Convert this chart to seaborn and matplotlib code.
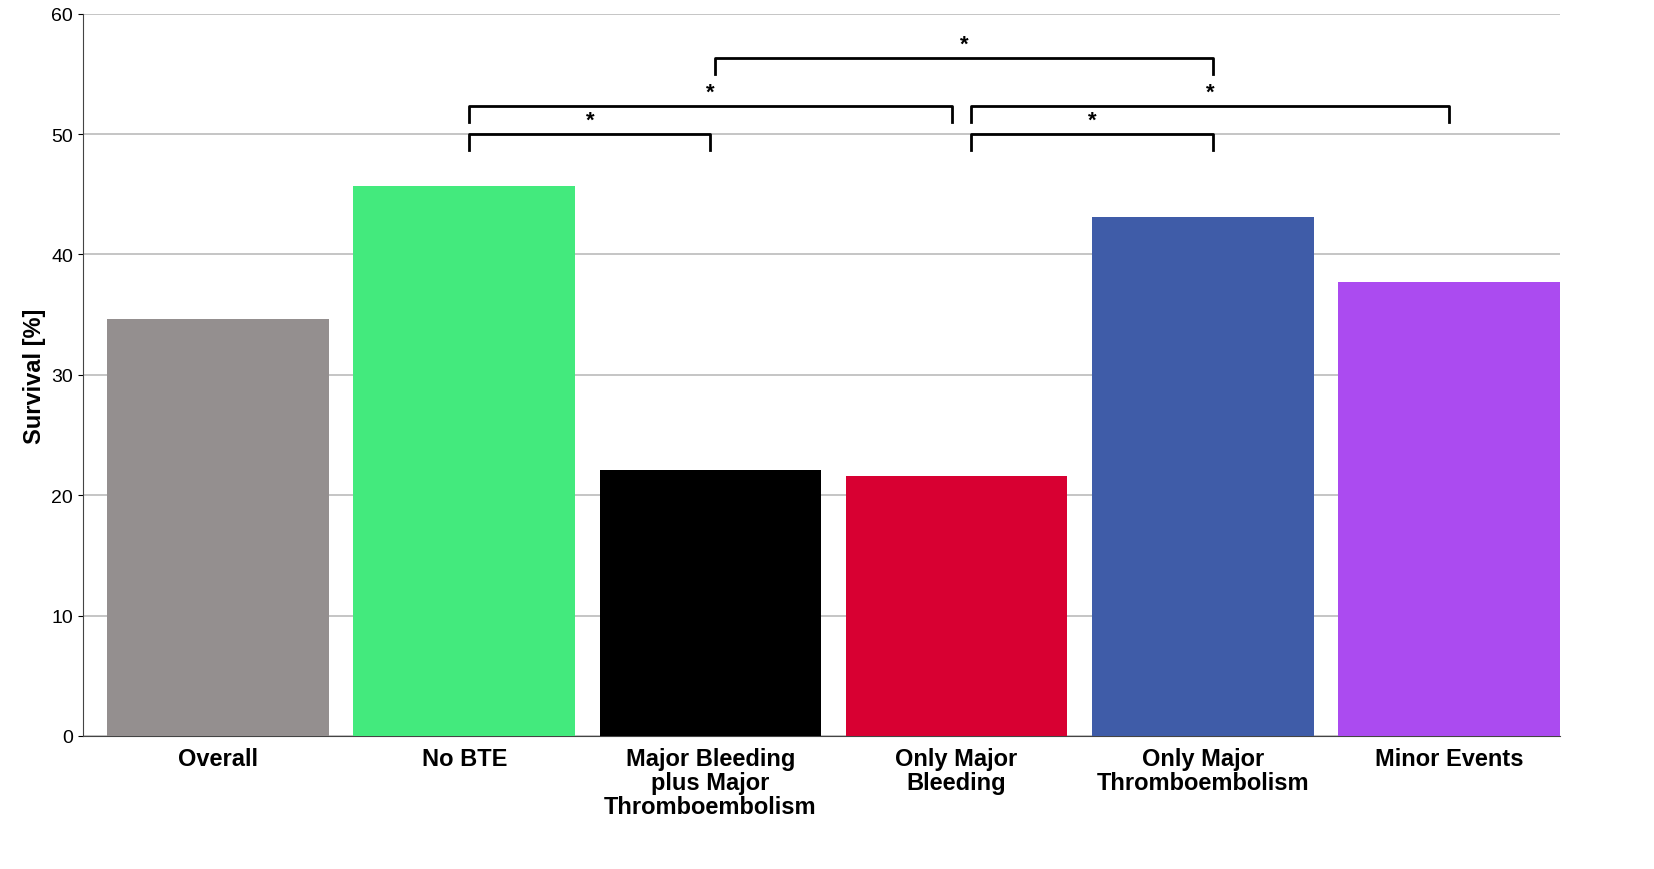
import matplotlib
matplotlib.use("Agg")
import matplotlib.pyplot as plt
import seaborn as sns
import pandas as pd

plt.rcParams["font.family"] = "Liberation Sans"

categories = ["Overall", "No BTE", "Major Bleeding\nplus Major\nThromboembolism",
              "Only Major\nBleeding", "Only Major\nThromboembolism", "Minor Events"]
survival = [34.6, 45.7, 22.1, 21.6, 43.1, 37.7]
colors = ["#948f8f", "#43ea7d", "#000000", "#d80032", "#3f5ca8", "#ab4bf0"]
# brackets: (start index, end index, height, start offset, end offset)
brackets = [(1, 2, 50.0, 0.02, 0.0), (1, 3, 52.3, 0.02, -0.02), (2, 4, 56.3, 0.02, 0.04),
            (3, 4, 50.0, 0.06, 0.04), (3, 5, 52.3, 0.06, 0.0)]

df = pd.DataFrame({"cat": categories, "val": survival})
fig, ax = plt.subplots(figsize=(16.54, 8.7), dpi=100)
fig.subplots_adjust(left=0.05, right=0.943, top=0.983, bottom=0.153)
sns.barplot(data=df, x="cat", y="val", hue="cat", palette=colors, legend=False,
            width=0.9, saturation=1, ax=ax, zorder=3, linewidth=0)
ax.set_xlim(-0.55, 5.45)
ax.set_ylim(0, 60)
ax.set_yticks(range(0, 61, 10))
ax.yaxis.grid(True, color="#bbbbbb", linewidth=1.2, zorder=0)
ax.set_axisbelow(True)
for s in ["top", "right"]:
    ax.spines[s].set_visible(False)
ax.spines["left"].set_color("#444444")
ax.spines["bottom"].set_color("#444444")
ax.set_xlabel("")
ax.set_ylabel("Survival [%]", fontsize=17, fontweight="bold")
ax.tick_params(axis="x", length=0, labelsize=17, pad=8)
ax.tick_params(axis="y", labelsize=14)
for lab in ax.get_xticklabels():
    lab.set_fontweight("bold")
    lab.set_linespacing(1.05)
for a, b, h, oa, ob in brackets:
    x1, x2 = a + oa, b + ob
    ax.plot([x1, x1, x2, x2], [h - 1.3, h, h, h - 1.3], color="black", lw=2, zorder=4)
    ax.text((x1 + x2) / 2, h + 0.3, "*", ha="center", va="bottom", fontsize=16, fontweight="bold")
fig.savefig("out.png", dpi=100)
